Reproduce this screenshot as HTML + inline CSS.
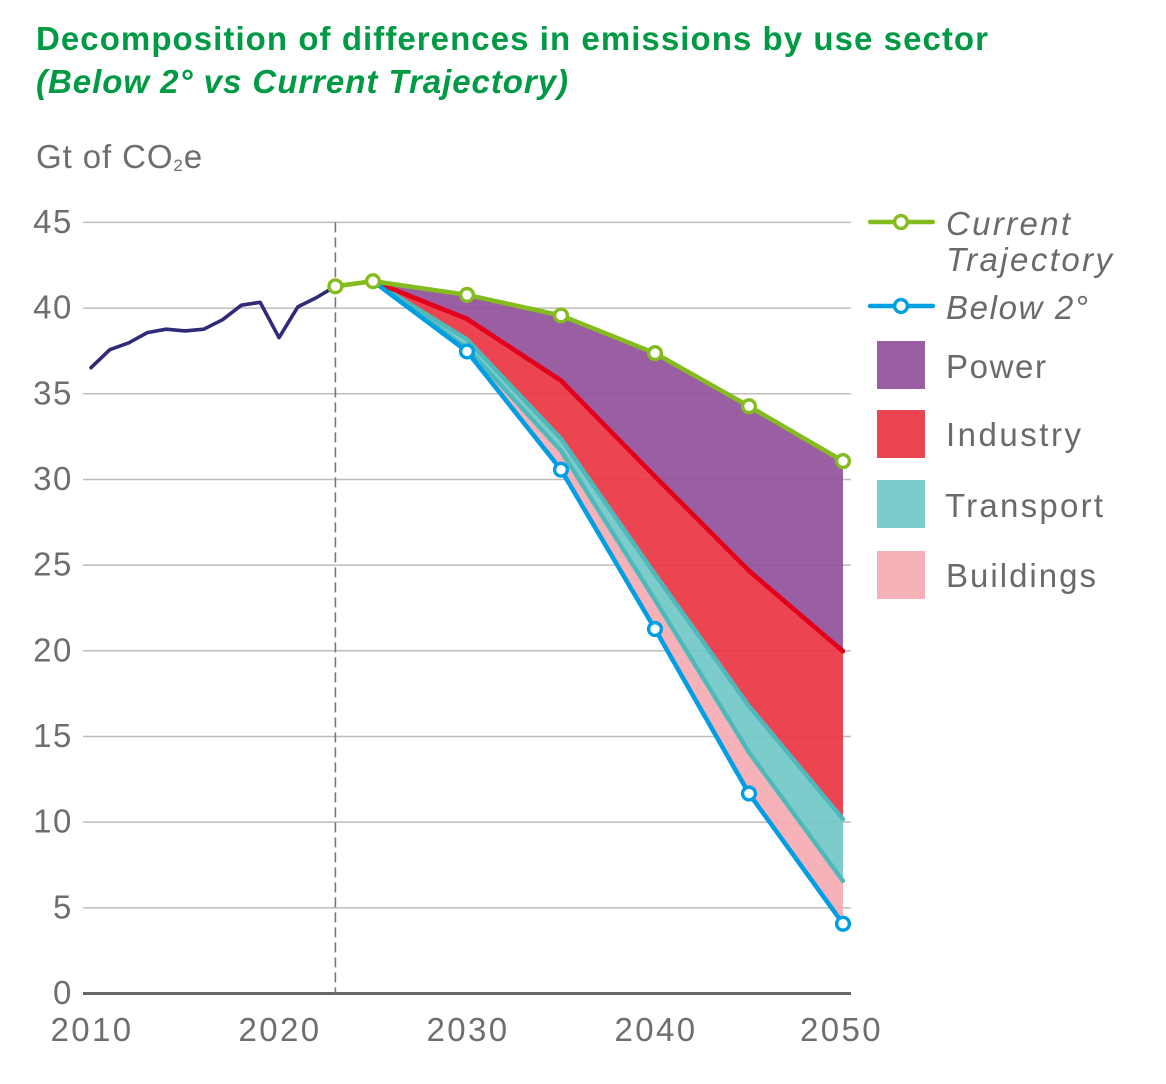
<!DOCTYPE html>
<html lang="en">
<head>
<meta charset="utf-8">
<title>Decomposition of differences in emissions by use sector</title>
<style>
html,body{margin:0;padding:0;background:#fff}
svg{display:block}
text{font-family:"Liberation Sans",sans-serif}
.t{font-size:33px;font-weight:700;fill:#009a44}
.lab{font-size:33px;fill:#6e6e6e}
.leg{font-size:33px;fill:#6a6a6a}
</style>
</head>
<body>
<svg id="chart" width="1166" height="1084" viewBox="0 0 1166 1084" xmlns="http://www.w3.org/2000/svg">
  <text class="t" x="36" y="50" textLength="952" lengthAdjust="spacing">Decomposition of differences in emissions by use sector</text>
  <text class="t" x="36" y="93" font-style="italic" textLength="532" lengthAdjust="spacing">(Below 2° vs Current Trajectory)</text>
  <text class="lab" x="36" y="168" letter-spacing="0.9">Gt of CO<tspan font-size="17" dy="3">2</tspan><tspan dy="-3">e</tspan></text>
  <g id="grid"></g>
  <g id="areas"></g>
  <g id="lines"></g>
  <g id="ticks"></g>

  <g>
    <g>
      <line x1="870" x2="933" y1="222" y2="222" stroke="#84bc1f" stroke-width="4.4" stroke-linecap="round"/>
      <circle cx="901" cy="222" r="6.4" fill="#fff" stroke="#84bc1f" stroke-width="3.4"/>
      <text class="leg" font-style="italic" x="946" y="235" textLength="124" lengthAdjust="spacing">Current</text>
      <text class="leg" font-style="italic" x="946" y="271" textLength="166" lengthAdjust="spacing">Trajectory</text>
    </g>
    <g>
      <line x1="870" x2="933" y1="306" y2="306" stroke="#009fe3" stroke-width="4.4" stroke-linecap="round"/>
      <circle cx="901" cy="306" r="6.4" fill="#fff" stroke="#009fe3" stroke-width="3.4"/>
      <text class="leg" font-style="italic" x="946" y="319" textLength="142" lengthAdjust="spacing">Below 2°</text>
    </g>
    <g>
      <rect x="877" y="341" width="48" height="48" fill="#9a5fa3"/>
      <text class="leg" x="946" y="378" textLength="100" lengthAdjust="spacing">Power</text>
    </g>
    <g>
      <rect x="877" y="410" width="48" height="48" fill="#ec4450"/>
      <text class="leg" x="946" y="446" textLength="135" lengthAdjust="spacing">Industry</text>
    </g>
    <g>
      <rect x="877" y="480" width="48" height="48" fill="#7ccccc"/>
      <text class="leg" x="945" y="517" textLength="158" lengthAdjust="spacing">Transport</text>
    </g>
    <g>
      <rect x="877" y="551" width="48" height="48" fill="#f6b2b8"/>
      <text class="leg" x="946" y="587" textLength="150" lengthAdjust="spacing">Buildings</text>
    </g>
  </g>
</svg>
<script>
const yTickValues = [0, 5, 10, 15, 20, 25, 30, 35, 40, 45];
const xTickLabels = [2010, 2020, 2030, 2040, 2050];
const historyYears = [2010, 2011, 2012, 2013, 2014, 2015, 2016, 2017, 2018, 2019, 2020, 2021, 2022, 2023];
const historyValues = [36.55, 37.6, 38.0, 38.6, 38.8, 38.7, 38.8, 39.35, 40.2, 40.37, 38.3, 40.1, 40.65, 41.3];
const dividerYear = 2023;
const currentYears = [2023, 2025, 2030, 2035, 2040, 2045, 2050];
const currentValues = [41.3, 41.6, 40.8, 39.6, 37.4, 34.3, 31.1];
const sectorYears = [2025, 2030, 2035, 2040, 2045, 2050];
const powerTop = [41.6, 40.8, 39.6, 37.4, 34.3, 31.1];
const industryTop = [41.6, 39.4, 35.8, 30.2, 24.7, 20.0];
const transportTop = [41.6, 38.2, 32.4, 24.5, 16.8, 10.2];
const buildingsTop = [41.6, 37.7, 31.7, 23.0, 14.1, 6.6];
const below2Values = [41.6, 37.5, 30.6, 21.3, 11.7, 4.1];

const NS = 'http://www.w3.org/2000/svg';
const xScale = year => 91 + (year - 2010) * 18.8;
const yScale = value => 993.5 - value * 17.135;

function make(tag, parent, attrs) {
  const el = document.createElementNS(NS, tag);
  for (const k in attrs) el.setAttribute(k, attrs[k]);
  parent.appendChild(el);
  return el;
}
function linePoints(years, values) {
  return years.map((yr, i) => xScale(yr).toFixed(1) + ',' + (yScale(values[i]) + 0.5).toFixed(1));
}
function bandPoints(years, upper, lower) {
  return linePoints(years, upper).concat(linePoints(years, lower).reverse()).join(' ');
}

const grid = document.getElementById('grid');
const areas = document.getElementById('areas');
const lines = document.getElementById('lines');
const ticks = document.getElementById('ticks');

yTickValues.forEach(v => {
  if (v === 0) return;
  const g = make('line', grid, {x1: 83, x2: 851, y1: yScale(v), y2: yScale(v), stroke: '#bdbdbd', 'stroke-width': 1.5});
  
  
});

yTickValues.forEach(v => {
  const t = make('text', ticks, {x: 73, y: yScale(v) + 10.5, 'text-anchor': 'end', class: 'lab', 'letter-spacing': '1.6'});
  t.textContent = v;
  
  
});
xTickLabels.forEach(yr => {
  const t = make('text', ticks, {x: xScale(yr) + (yr === 2050 ? -1.5 : 1), y: 1041, 'text-anchor': 'middle', class: 'lab', 'letter-spacing': '2.4'});
  t.textContent = yr;
  
  
});

const powerArea = make('polygon', areas, {points: bandPoints(sectorYears, powerTop, industryTop), fill: 'rgba(145,81,155,.92)'});


const industryArea = make('polygon', areas, {points: bandPoints(sectorYears, industryTop, transportTop), fill: 'rgba(234,52,65,.92)'});


const transportArea = make('polygon', areas, {points: bandPoints(sectorYears, transportTop, buildingsTop), fill: 'rgba(113,200,200,.92)'});


const buildingsArea = make('polygon', areas, {points: bandPoints(sectorYears, buildingsTop, below2Values), fill: 'rgba(245,171,178,.92)'});



const axisLine = make('line', lines, {x1: 83, x2: 851, y1: yScale(0), y2: yScale(0), stroke: '#666', 'stroke-width': 3});



const divider = make('line', lines, {x1: xScale(dividerYear), x2: xScale(dividerYear), y1: yScale(45), y2: yScale(0), stroke: '#777', 'stroke-width': 1.6, 'stroke-dasharray': '10 5'});



function seriesLine(years, values, color, width) {
  return make('polyline', lines, {points: linePoints(years, values).join(' '), fill: 'none', stroke: color, 'stroke-width': width, 'stroke-linejoin': 'round', 'stroke-linecap': 'round'});
}
const historyLine = seriesLine(historyYears, historyValues, '#312a78', 3.6);


const buildingsLine = seriesLine(sectorYears, buildingsTop, '#4fb8bb', 4.4);


const transportLine = seriesLine(sectorYears, transportTop, '#4fb8bb', 4.4);


const industryLine = seriesLine(sectorYears, industryTop, '#e2001a', 4.6);


const belowLine = seriesLine(sectorYears, below2Values, '#009fe3', 4.6);


const currentLine = seriesLine(currentYears, currentValues, '#84bc1f', 4.6);



sectorYears.forEach((yr, i) => {
  if (i === 0) return;
  const m = make('circle', lines, {cx: xScale(yr), cy: yScale(below2Values[i]) + 0.5, r: 6.4, fill: '#fff', stroke: '#009fe3', 'stroke-width': 3.4});
  
  
});
currentYears.forEach((yr, i) => {
  const m = make('circle', lines, {cx: xScale(yr), cy: yScale(currentValues[i]) + 0.5, r: 6.4, fill: '#fff', stroke: '#84bc1f', 'stroke-width': 3.4});
  
  
});
</script>
</body>
</html>
